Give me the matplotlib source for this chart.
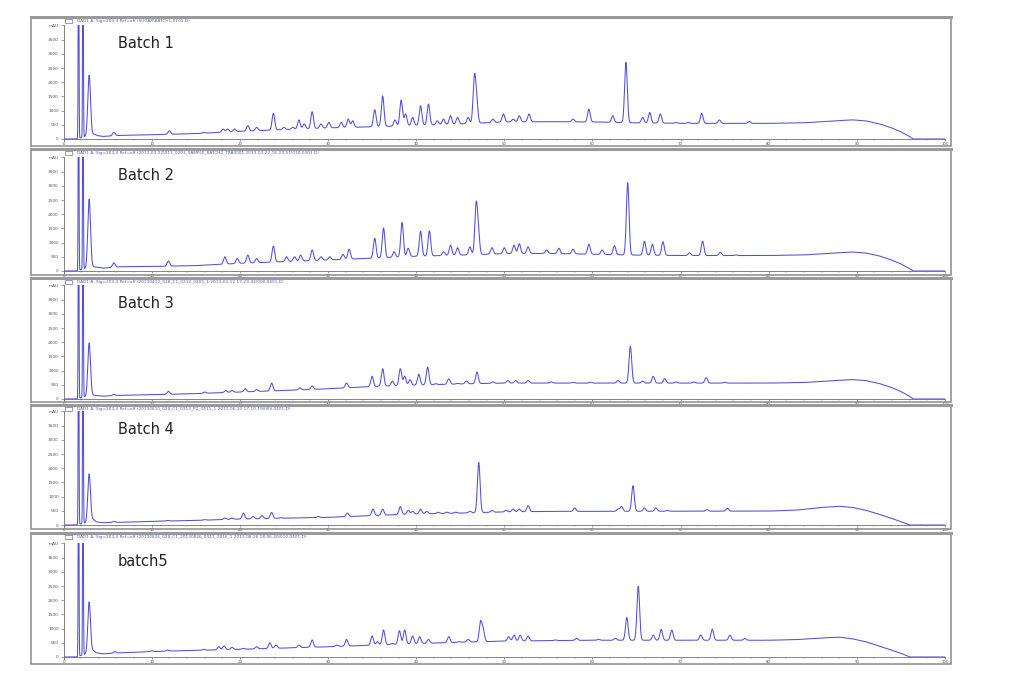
import numpy as np
import matplotlib
matplotlib.use("Agg")
import matplotlib.pyplot as plt
from matplotlib.patches import Rectangle
from matplotlib.lines import Line2D
from matplotlib.ticker import MultipleLocator

# ---------------- data ----------------
batch_labels = ["Batch 1", "Batch 2", "Batch 3", "Batch 4", "batch5"]
header_texts = [
    "DAD1 A, Sig=203,4 Ref=off (SUGAR\\BATCH1-0101.D)",
    "DAD1 A, Sig=203,4 Ref=off (2013-03-22\\013_0203_SAMPLE_BATCH2_TRA0001 2013-03-22 16-23-51\\010-0301.D)",
    "DAD1 A, Sig=203,4 Ref=off (20130412_028_C1_0312_0205_1 2013-04-12 17-23-46\\008-0401.D)",
    "DAD1 A, Sig=203,4 Ref=off (20130610_028_C1_0313_P2_0411_1 2013-06-10 17-10-19\\009-0401.D)",
    "DAD1 A, Sig=203,4 Ref=off (20130826_028_C1_20130826_0411_2816_1 2013-08-26 18-06-40\\010-0401.D)",
]
x_ticks = [0, 10, 20, 30, 40, 50, 60, 70, 80, 90, 100]
y_ticks = [0, 500, 1000, 1500, 2000, 2500, 3000, 3500, 4000]
y_tick_labels = ["0", "500", "1000", "1500", "2000", "2500", "3000", "3500", "mAU"]

# solvent-front peaks (off scale)
solvent_rt = [1.7, 2.2]
solvent_mau = [9000, 9000]

# baselines (retention time [min], mAU)
b1_base_t = [0, 1.4, 3.2, 4.5, 6.5, 10, 15, 20, 25, 30, 35, 40, 45, 50, 55, 60, 65, 70, 80, 84, 87, 89.5, 91, 92.5, 93.7, 94.9, 95.8, 96.4, 100]
b1_base_v = [0, 0, 150, 90, 130, 150, 190, 270, 330, 390, 430, 480, 530, 600, 610, 600, 570, 550, 550, 570, 630, 675, 640, 540, 420, 270, 120, 0, 0]
b2_base_t = [0, 1.4, 3.2, 4.5, 6.5, 10, 15, 20, 25, 30, 35, 40, 45, 50, 55, 60, 65, 70, 80, 84, 87, 89.5, 91, 92.5, 93.7, 94.9, 95.8, 96.4, 100]
b2_base_v = [0, 0, 160, 100, 150, 160, 190, 270, 330, 390, 450, 520, 560, 610, 620, 590, 560, 545, 545, 565, 625, 670, 635, 535, 415, 265, 115, 0, 0]
b3_base_t = [0, 1.4, 3.2, 4.5, 6.5, 10, 15, 20, 25, 30, 35, 40, 45, 50, 60, 80, 84, 87, 89.5, 91, 92.5, 93.7, 94.9, 95.8, 96.4, 100]
b3_base_v = [0, 0, 140, 100, 130, 150, 190, 245, 300, 360, 440, 490, 530, 560, 560, 560, 580, 640, 685, 650, 550, 430, 280, 130, 0, 0]
b4_base_t = [0, 1.4, 3.2, 4.5, 6.5, 10, 15, 20, 25, 30, 35, 40, 45, 50, 55, 60, 80, 83, 86, 88, 89.5, 91, 92.2, 93.5, 94.9, 96, 100]
b4_base_v = [0, 0, 130, 80, 95, 130, 160, 210, 240, 270, 330, 390, 420, 460, 480, 480, 490, 520, 620, 660, 620, 520, 410, 280, 130, 0, 0]
b5_base_t = [0, 1.4, 3.2, 4.5, 6.5, 12, 20, 30, 40, 45, 50, 55, 60, 80, 83, 86, 88, 89.5, 91, 92.2, 93.5, 94.9, 96, 100]
b5_base_v = [0, 0, 170, 110, 150, 210, 270, 360, 470, 520, 560, 575, 590, 590, 610, 670, 700, 640, 540, 420, 290, 140, 0, 0]

# peaks (retention time [min], apex mAU)
b1_rt = [2.9, 3.5, 5.7, 12.0, 15.9, 18.1, 18.6, 19.4, 20.9, 21.9, 23.8, 25.0, 26.0, 26.7, 27.3, 28.2, 29.2, 30.1, 31.5, 32.3, 32.8,
         35.3, 36.2, 37.6, 38.3, 38.8, 39.6, 40.5, 41.4, 42.4, 43.1, 43.9, 44.7, 45.9, 46.6, 46.85, 48.7, 49.9, 51.0, 51.7, 52.8,
         57.8, 59.6, 62.3, 63.8, 65.7, 66.5, 67.7, 69.5, 70.9, 72.4, 74.4, 77.8]
b1_mau = [2250, 170, 234, 290, 234, 350, 350, 350, 470, 410, 900, 410, 410, 670, 530, 960, 530, 585, 585, 700, 640,
          1030, 1520, 670, 1370, 880, 760, 1170, 1230, 640, 700, 820, 760, 760, 2080, 1320, 700, 880, 700, 820, 880,
          700, 1050, 820, 2700, 760, 935, 880, 585, 585, 900, 670, 620]

b2_rt = [2.9, 5.7, 11.9, 18.3, 19.7, 20.9, 21.9, 23.8, 25.3, 26.2, 26.9, 28.2, 29.2, 30.2, 31.7, 32.4, 35.3, 36.3, 37.5, 38.4,
         39.1, 40.5, 41.5, 43.1, 43.9, 44.7, 46.1, 46.8, 47.05, 48.6, 50.0, 51.1, 51.7, 52.7, 54.8, 56.2, 57.8, 59.6, 61.1,
         62.5, 64.0, 65.9, 66.8, 68.0, 71.0, 72.5, 74.5, 76.3]
b2_mau = [2530, 290, 350, 500, 440, 560, 440, 880, 500, 500, 560, 740, 500, 500, 585, 770, 1150, 1520, 680, 1710,
          800, 1400, 1415, 680, 910, 820, 850, 2240, 1320, 820, 820, 910, 960, 850, 740, 800, 770, 940, 740,
          890, 3110, 1050, 940, 1030, 640, 1050, 660, 560]

b3_rt = [2.9, 5.7, 11.9, 16.0, 18.4, 19.1, 20.6, 21.9, 23.6, 26.8, 28.2, 32.1, 35.0, 36.2, 37.3, 38.2, 38.7, 39.3, 40.3,
         41.3, 42.2, 43.7, 44.7, 45.7, 46.9, 48.7, 50.4, 51.3, 52.7, 55.3, 57.8, 59.8, 62.9, 64.3, 65.7, 66.9, 68.2, 69.5,
         71.5, 72.9, 75.0]
b3_mau = [1970, 165, 270, 245, 300, 300, 360, 330, 560, 390, 460, 560, 800, 1065, 630, 1065, 800, 680, 870,
          1120, 540, 715, 540, 630, 950, 600, 650, 650, 650, 600, 590, 590, 650, 1850, 630, 800, 715, 600,
          600, 750, 590]

b4_rt = [2.9, 3.4, 5.7, 11.8, 16.0, 18.3, 19.1, 20.4, 21.5, 22.5, 23.6, 24.6, 28.9, 32.2, 35.1, 36.2, 38.2, 39.1, 39.6,
         40.5, 41.2, 42.5, 43.5, 44.5, 46.1, 47.1, 48.6, 50.2, 51.0, 51.7, 52.7, 58.0, 62.9, 63.3, 64.6, 65.9, 67.2, 68.5,
         73.0, 75.3]
b4_mau = [1800, 190, 130, 150, 190, 245, 245, 420, 300, 330, 440, 245, 300, 420, 560, 560, 650, 515, 480,
          560, 480, 450, 450, 450, 480, 2200, 515, 515, 560, 560, 680, 600, 560, 650, 1380, 600, 600, 515,
          540, 585]

b5_rt = [2.9, 3.4, 5.8, 10.0, 11.8, 15.9, 17.6, 18.2, 19.1, 20.4, 21.9, 23.4, 24.1, 26.7, 28.2, 31.0, 32.1, 35.0, 35.6,
         36.3, 37.3, 38.1, 38.7, 39.6, 40.4, 41.4, 43.7, 44.9, 45.9, 47.3, 47.6, 50.5, 51.1, 51.8, 52.7, 55.8, 58.2,
         60.7, 62.6, 63.9, 65.2, 66.9, 67.8, 69.0, 72.3, 73.6, 75.6, 77.3]
b5_mau = [1940, 220, 190, 220, 245, 270, 360, 385, 340, 305, 360, 500, 420, 420, 600, 420, 620, 740, 540,
          950, 480, 925, 950, 740, 715, 620, 715, 540, 620, 1220, 950, 715, 770, 770, 740, 600, 660,
          620, 660, 1390, 2490, 770, 970, 950, 770, 980, 770, 655]

baselines = [(b1_base_t, b1_base_v), (b2_base_t, b2_base_v), (b3_base_t, b3_base_v),
             (b4_base_t, b4_base_v), (b5_base_t, b5_base_v)]
peaks = [(b1_rt, b1_mau), (b2_rt, b2_mau), (b3_rt, b3_mau), (b4_rt, b4_mau), (b5_rt, b5_mau)]

# ---------------- layout (pixels) ----------------
W, H = 1019, 697
frames = [(17, 146), (149, 275), (278, 402), (405, 529), (533, 664)]
zero_px = [139, 271, 399, 525, 657]
frame_left, frame_right = 31, 951
ax_left, ax_right = 63.6, 945
px_per_mau = 14.2 / 500.0
ymin, ymax = -70, 4000

line_color = "#5050dc"
fig = plt.figure(figsize=(W / 100, H / 100), dpi=100)


def fx(px):
    return px / W


def fy(py):
    return 1 - py / H


t = np.linspace(0, 100, 10001)
sigma = 0.15

for i in range(5):
    ftop, fbot = frames[i]
    # window frame
    fig.patches.append(Rectangle((fx(frame_left), fy(fbot)), fx(frame_right - frame_left), (fbot - ftop) / H,
                                 transform=fig.transFigure, fill=False, edgecolor="#8a8a8a", linewidth=1.1))
    fig.lines.append(Line2D([fx(frame_left), fx(frame_right)], [fy(ftop), fy(ftop)],
                            transform=fig.transFigure, color="#9a9a9a", linewidth=2.2))
    # header
    fig.patches.append(Rectangle((fx(65), fy(ftop + 6)), fx(7), 4 / H, transform=fig.transFigure,
                                 fill=False, edgecolor="#6a6ad8", linewidth=0.5))
    fig.text(fx(77), fy(ftop + 4), header_texts[i], fontsize=3.1, color="#5a5ad0", va="center", ha="left")

    z = zero_px[i]
    top_px = z - (ymax) * px_per_mau
    bot_px = z - (ymin) * px_per_mau
    ax = fig.add_axes([fx(ax_left), fy(bot_px), fx(ax_right - ax_left), (bot_px - top_px) / H])
    ax.set_xlim(0, 100)
    ax.set_ylim(ymin, ymax)
    ax.patch.set_alpha(0)

    bt, bv = baselines[i]
    y = np.interp(t, bt, bv).astype(float)
    rts, maus = peaks[i]
    for rt, apex in zip(rts, maus):
        h = max(apex - np.interp(rt, bt, bv), 20)
        y += h * np.exp(-0.5 * ((t - rt) / sigma) ** 2)
    for rt, apex in zip(solvent_rt, solvent_mau):
        y += apex * np.exp(-0.5 * ((t - rt) / 0.04) ** 2)
    ax.plot(t, y, color=line_color, linewidth=0.75)

    for s in ["top", "right"]:
        ax.spines[s].set_visible(False)
    for s in ["left", "bottom"]:
        ax.spines[s].set_color("#707070")
        ax.spines[s].set_linewidth(0.6)
    ax.spines["bottom"].set_position(("data", 0))
    ax.set_xticks(x_ticks)
    ax.set_xticklabels([str(v) for v in x_ticks])
    ax.xaxis.set_minor_locator(MultipleLocator(2))
    ax.set_yticks(y_ticks)
    ax.set_yticklabels(y_tick_labels)
    ax.tick_params(axis="y", labelsize=3.1, colors="#555555", length=2.0, width=0.4, pad=1.5, direction="out")
    ax.tick_params(axis="x", labelsize=2.8, colors="#555555", length=1.5, width=0.4, pad=0.4, direction="out")
    ax.tick_params(axis="x", which="minor", length=1.2, width=0.3, colors="#999999")

    fig.text(fx(118), fy(z - 95), batch_labels[i], fontsize=10.5, color="#222222", va="center", ha="left")

fig.savefig("out.png", dpi=100)
